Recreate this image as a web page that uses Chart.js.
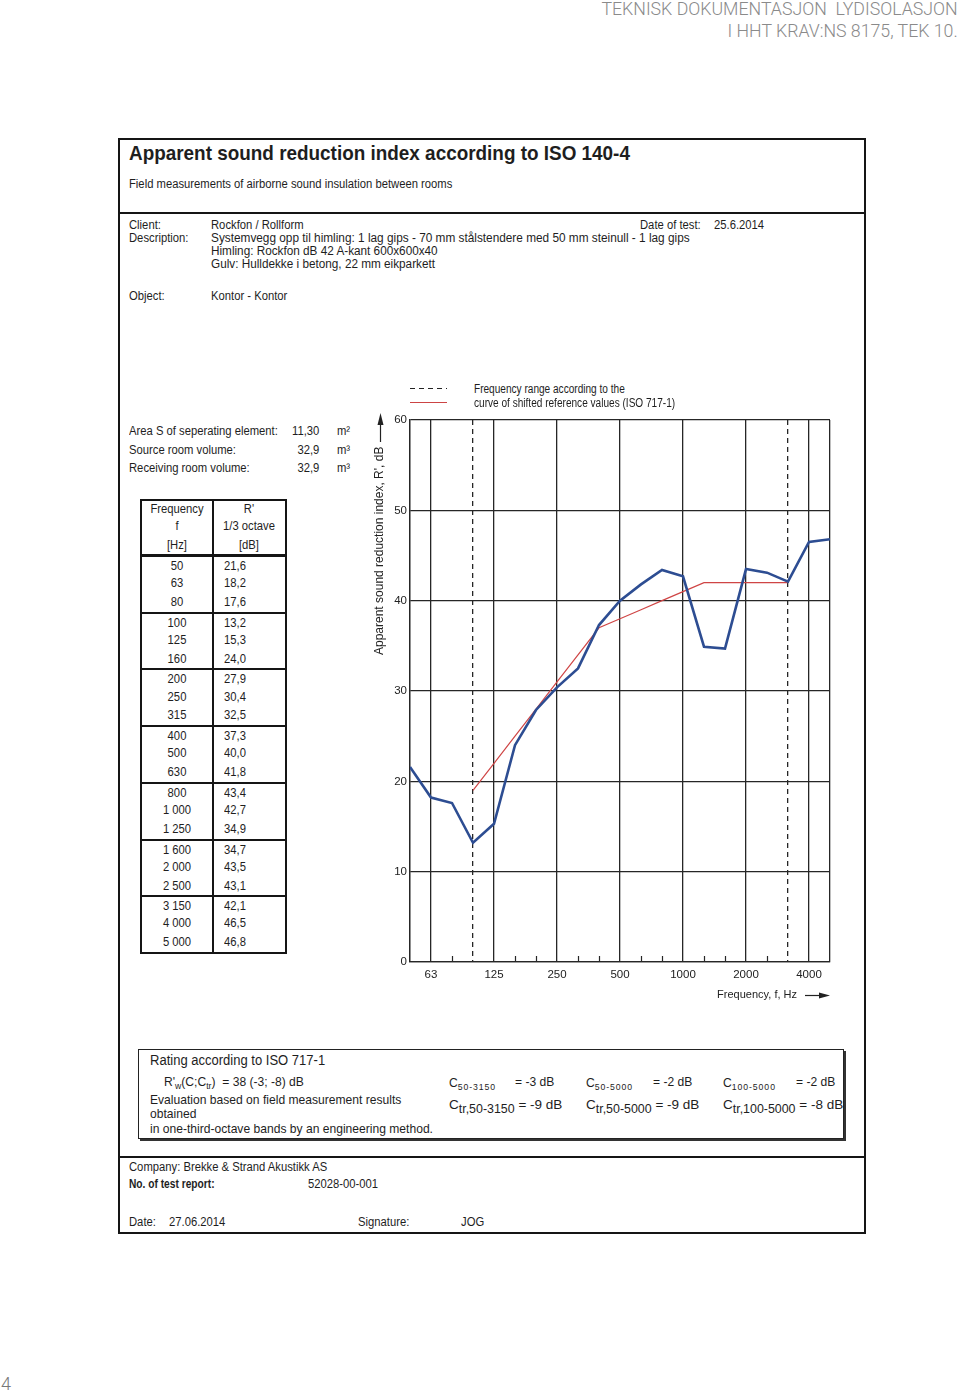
<!DOCTYPE html>
<html><head><meta charset="utf-8">
<script src="https://cdn.jsdelivr.net/npm/chart.js@4/dist/chart.umd.min.js"></script>
<style>
html,body{margin:0;padding:0;background:#fff;}
body{width:960px;height:1392px;position:relative;overflow:hidden;font-family:"Liberation Sans",Arial,sans-serif;color:#1e1e1e;}
.t{position:absolute;white-space:nowrap;line-height:1;}
.box{position:absolute;box-sizing:border-box;}
.ln{position:absolute;background:#151515;}
sub{font-size:72%;vertical-align:-0.35em;line-height:0;}
sub.w{letter-spacing:1px;}
sub.tr{font-size:92%;vertical-align:-0.3em;}
#chartWrap{position:absolute;left:360px;top:405px;width:480px;height:600px;}
</style></head><body>

<div class="box" style="left:118px;top:138px;width:748px;height:1096px;border:2px solid #151515;"></div>
<div class="ln" style="left:118px;top:212px;width:748px;height:2px;"></div>
<div class="ln" style="left:118px;top:1156px;width:748px;height:2px;"></div>
<div class="box" style="left:138px;top:1049px;width:706px;height:90px;border:1.5px solid #222;box-shadow:2px 2px 0 #333;"></div>

<div class="box" style="left:410px;top:388px;width:37px;height:1.3px;background:repeating-linear-gradient(to right,#222 0 5px,transparent 5px 9px);"></div>
<div class="box" style="left:410px;top:402px;width:37px;height:1.3px;background:#cc4444;"></div>

<div id="chartWrap"><canvas id="c" width="480" height="600"></canvas></div>

<script>
// ---- chart data ----
const freqs = [50,63,80,100,125,160,200,250,315,400,500,630,800,1000,1250,1600,2000,2500,3150,4000,5000];
const rPrime = [21.6,18.2,17.6,13.2,15.3,24.0,27.9,30.4,32.5,37.3,40.0,41.8,43.4,42.7,34.9,34.7,43.5,43.1,42.1,46.5,46.8];
const refFreqs = [100,125,160,200,250,315,400,500,630,800,1000,1250,1600,2000,2500,3150];
const refShifted = [19,22,25,28,31,34,37,38,39,40,41,42,42,42,42,42];
const xTickLabels = ['63','125','250','500','1000','2000','4000'];
const yTicks = [0,10,20,30,40,50,60];
const rangeLimits = [100,3150];

// ---- document text ----
function txt(x, y, html, size, opt) {
  opt = opt || {};
  const d = document.createElement('div');
  d.className = 't';
  d.innerHTML = html;
  d.style.fontSize = size + 'px';
  d.style.top = (y - size / 2) + 'px';
  const sx = opt.sx === undefined ? 0.9 : opt.sx;
  if (opt.right) {
    d.style.right = (960 - x) + 'px';
    d.style.transformOrigin = '100% 50%';
    d.style.transform = 'scaleX(' + sx + ')';
  } else if (opt.center) {
    d.style.left = x + 'px';
    d.style.transformOrigin = '50% 50%';
    d.style.transform = 'translateX(-50%) scaleX(' + sx + ')';
  } else {
    d.style.left = x + 'px';
    d.style.transformOrigin = '0 50%';
    d.style.transform = 'scaleX(' + sx + ')';
  }
  if (opt.bold) d.style.fontWeight = 'bold';
  if (opt.color) d.style.color = opt.color;
  if (opt.family) d.style.fontFamily = opt.family;
  if (opt.weight) d.style.fontWeight = opt.weight;
  document.body.appendChild(d);
  return d;
}
const hdr = {right:true, sx:0.985, color:'#8a8a8a', family:'Roboto, "Open Sans", sans-serif', weight:300};
txt(958, 9, 'TEKNISK DOKUMENTASJON&nbsp; LYDISOLASJON', 18, hdr);
txt(958, 31, 'I HHT KRAV:NS 8175, TEK 10.', 18, hdr);
txt(1, 1384, '4', 18, {sx:1, color:'#777', family:'Roboto, sans-serif', weight:300});

txt(129, 152, 'Apparent sound reduction index according to ISO 140-4', 21, {bold:true, sx:0.9});
txt(129, 184, 'Field measurements of airborne sound insulation between rooms', 12.5);
txt(129, 225, 'Client:', 12.5);
txt(211, 225, 'Rockfon / Rollform', 12.5);
txt(640, 225, 'Date of test:', 12.5);
txt(714, 225, '25.6.2014', 12.5);
txt(129, 238, 'Description:', 12.5);
txt(211, 238, 'Systemvegg opp til himling: 1 lag gips - 70 mm stålstendere med 50 mm steinull - 1 lag gips', 12.5, {sx:0.945});
txt(211, 251, 'Himling: Rockfon dB 42 A-kant 600x600x40', 12.5, {sx:0.94});
txt(211, 264, 'Gulv: Hulldekke i betong, 22 mm eikparkett', 12.5, {sx:0.94});
txt(129, 296, 'Object:', 12.5);
txt(211, 296, 'Kontor - Kontor', 12.5);

txt(129, 431, 'Area S of seperating element:', 12.5);
txt(319, 431, '11,30', 12.5, {right:true});
txt(337, 431, 'm²', 12.5);
txt(129, 450, 'Source room volume:', 12.5);
txt(319, 450, '32,9', 12.5, {right:true});
txt(337, 450, 'm³', 12.5);
txt(129, 468, 'Receiving room volume:', 12.5);
txt(319, 468, '32,9', 12.5, {right:true});
txt(337, 468, 'm³', 12.5);

txt(474, 389, 'Frequency range according to the', 12, {sx:0.84});
txt(474, 403, 'curve of shifted reference values (ISO 717-1)', 12, {sx:0.84});

// table
(function () {
  const L = 140, R = 287, M = 212, T = 499, H0 = 556, G = 56.7;
  const add = (s) => { const d = document.createElement('div'); d.className = 'box'; Object.assign(d.style, s); document.body.appendChild(d); };
  add({left:L+'px', top:T+'px', width:(R-L)+'px', height:(H0 + 7*G - T + 1)+'px', border:'2px solid #151515'});
  add({left:M+'px', top:T+'px', width:'2px', height:(H0 + 7*G - T)+'px', background:'#151515'});
  add({left:L+'px', top:(H0-2)+'px', width:(R-L)+'px', height:'3px', background:'#151515'});
  for (let g = 1; g < 7; g++) add({left:L+'px', top:(H0 + g*G - 1)+'px', width:(R-L)+'px', height:'2px', background:'#151515'});
  txt(177, 509, 'Frequency', 12.5, {center:true});
  txt(177, 526, 'f', 12.5, {center:true});
  txt(177, 545, '[Hz]', 12.5, {center:true});
  txt(249, 509, "R'", 12.5, {center:true});
  txt(249, 526, '1/3 octave', 12.5, {center:true});
  txt(249, 545, '[dB]', 12.5, {center:true});
  const offs = [10.3, 27.5, 46.3];
  freqs.forEach((f, i) => {
    const g = Math.floor(i / 3), r = i % 3;
    const y = H0 + g*G + offs[r];
    const fl = f >= 1000 ? String(f).replace(/(\d)(\d{3})$/, '$1 $2') : String(f);
    txt(177, y, fl, 12.5, {center:true});
    txt(224, y, rPrime[i].toFixed(1).replace('.', ','), 12.5);
  });
})();

// rating box
const rb = {sx:0.93};
const rbt = {sx:1.0};
txt(150, 1060, 'Rating according to ISO 717-1', 14, rb);
txt(164, 1081, "R'<sub>w</sub>(C;C<sub>tr</sub>)&nbsp; = 38 (-3; -8) dB", 13, rb);
txt(150, 1099, 'Evaluation based on field measurement results', 13, rb);
txt(150, 1113, 'obtained', 13, rb);
txt(150, 1128, 'in one-third-octave bands by an engineering method.', 13, rb);
txt(449, 1082, 'C<sub class="w">50-3150</sub>', 13, rb);
txt(515, 1081, '= -3 dB', 13, rb);
txt(449, 1105, 'C<sub class="tr">tr,50-3150</sub> = -9 dB', 13.5, rbt);
txt(586, 1082, 'C<sub class="w">50-5000</sub>', 13, rb);
txt(653, 1081, '= -2 dB', 13, rb);
txt(586, 1105, 'C<sub class="tr">tr,50-5000</sub> = -9 dB', 13.5, rbt);
txt(723, 1082, 'C<sub class="w">100-5000</sub>', 13, rb);
txt(796, 1081, '= -2 dB', 13, rb);
txt(723, 1105, 'C<sub class="tr">tr,100-5000</sub> = -8 dB', 13.5, rbt);

// footer
txt(129, 1167, 'Company: Brekke &amp; Strand Akustikk AS', 12.5);
txt(129, 1184, 'No. of test report:', 12, {bold:true, sx:0.85});
txt(308, 1184, '52028-00-001', 12.5);
txt(129, 1222, 'Date:', 12.5);
txt(169, 1222, '27.06.2014', 12.5);
txt(358, 1222, 'Signature:', 12.5);
txt(461, 1222, 'JOG', 12.5);

// ---- chart ----
const idxOf = (f) => freqs.indexOf(f);
const labeledIdx = xTickLabels.map(s => idxOf(Number(s)));
const dashedIdx = rangeLimits.map(idxOf);
const tickFont = {family:'"Liberation Sans", Arial, sans-serif', size:11.5};
const gridColor = '#262626';

const extras = {
  id: 'extras',
  afterDraw(chart) {
    const {ctx, chartArea: a, scales: {x}} = chart;
    ctx.save();
    ctx.strokeStyle = gridColor; ctx.lineWidth = 1.2;
    freqs.forEach((f, i) => {
      if (labeledIdx.includes(i) || dashedIdx.includes(i) || i === 0 || i === freqs.length - 1) return;
      const px = Math.round(x.getPixelForValue(i)) + 0.5;
      ctx.beginPath(); ctx.moveTo(px, a.bottom); ctx.lineTo(px, a.bottom - 6); ctx.stroke();
    });
    ctx.fillStyle = '#222';
    ctx.strokeStyle = '#222';
    // x axis title + arrow
    ctx.font = '11px "Liberation Sans", Arial, sans-serif';
    ctx.textAlign = 'right'; ctx.textBaseline = 'middle';
    const ty = a.bottom + 33;
    ctx.fillText('Frequency, f, Hz', a.right - 33, ty);
    ctx.lineWidth = 1.2;
    ctx.beginPath(); ctx.moveTo(a.right - 25, ty + 0.5); ctx.lineTo(a.right - 8, ty + 0.5); ctx.stroke();
    ctx.beginPath(); ctx.moveTo(a.right, ty + 0.5); ctx.lineTo(a.right - 11, ty - 2.5); ctx.lineTo(a.right - 11, ty + 3.5); ctx.closePath(); ctx.fill();
    // y axis title + arrow
    ctx.font = '12px "Liberation Sans", Arial, sans-serif';
    ctx.translate(a.left - 30, a.top + 235);
    ctx.rotate(-Math.PI / 2);
    ctx.textAlign = 'left';
    ctx.fillText("Apparent sound reduction index, R', dB", 0, 0);
    ctx.beginPath(); ctx.moveTo(213, 0.5); ctx.lineTo(232, 0.5); ctx.stroke();
    ctx.beginPath(); ctx.moveTo(242, 0.5); ctx.lineTo(230, -2.5); ctx.lineTo(230, 3.5); ctx.closePath(); ctx.fill();
    ctx.restore();
  }
};

new Chart(document.getElementById('c'), {
  type: 'line',
  data: {
    datasets: [
      {
        label: "R'",
        data: rPrime.map((v, i) => ({x: i, y: v})),
        borderColor: '#2d4d92',
        borderWidth: 2.6,
        pointRadius: 0,
        tension: 0,
        order: 1
      },
      {
        label: 'Shifted reference curve',
        data: refShifted.map((v, i) => ({x: idxOf(refFreqs[i]), y: v})),
        borderColor: '#cf4545',
        borderWidth: 1.2,
        pointRadius: 0,
        tension: 0,
        order: 2
      }
    ]
  },
  options: {
    responsive: false,
    animation: false,
    devicePixelRatio: 1,
    layout: {padding: {top: 15, right: 10, left: 0, bottom: 0}},
    plugins: {legend: {display: false}, tooltip: {enabled: false}},
    scales: {
      x: {
        type: 'linear',
        min: 0,
        max: freqs.length - 1,
        afterBuildTicks: (s) => { s.ticks = freqs.map((f, i) => ({value: i})); },
        afterFit: (s) => { s.height = 43; },
        ticks: {
          autoSkip: false, maxRotation: 0, padding: 6, color: '#222', font: tickFont,
          callback: (v) => { const f = String(freqs[v]); return xTickLabels.includes(f) ? f : ''; }
        },
        grid: {
          drawTicks: false,
          lineWidth: 1.3,
          color: (c) => {
            const i = c.tick ? c.tick.value : -1;
            return (labeledIdx.includes(i) || dashedIdx.includes(i) || i === freqs.length - 1 || i === 0) ? gridColor : 'rgba(0,0,0,0)';
          }
        },
        border: {
          color: gridColor, width: 1.3,
          dash: (c) => (c.tick && dashedIdx.includes(c.tick.value)) ? [5, 4] : []
        }
      },
      y: {
        min: 0,
        max: 60,
        afterBuildTicks: (s) => { s.ticks = yTicks.map(v => ({value: v})); },
        afterFit: (s) => { s.width = 50; },
        ticks: {padding: 3, color: '#222', font: tickFont},
        grid: {drawTicks: false, lineWidth: 1.3, color: gridColor},
        border: {color: gridColor, width: 1.3}
      }
    }
  },
  plugins: [extras]
});
</script>
</body></html>
